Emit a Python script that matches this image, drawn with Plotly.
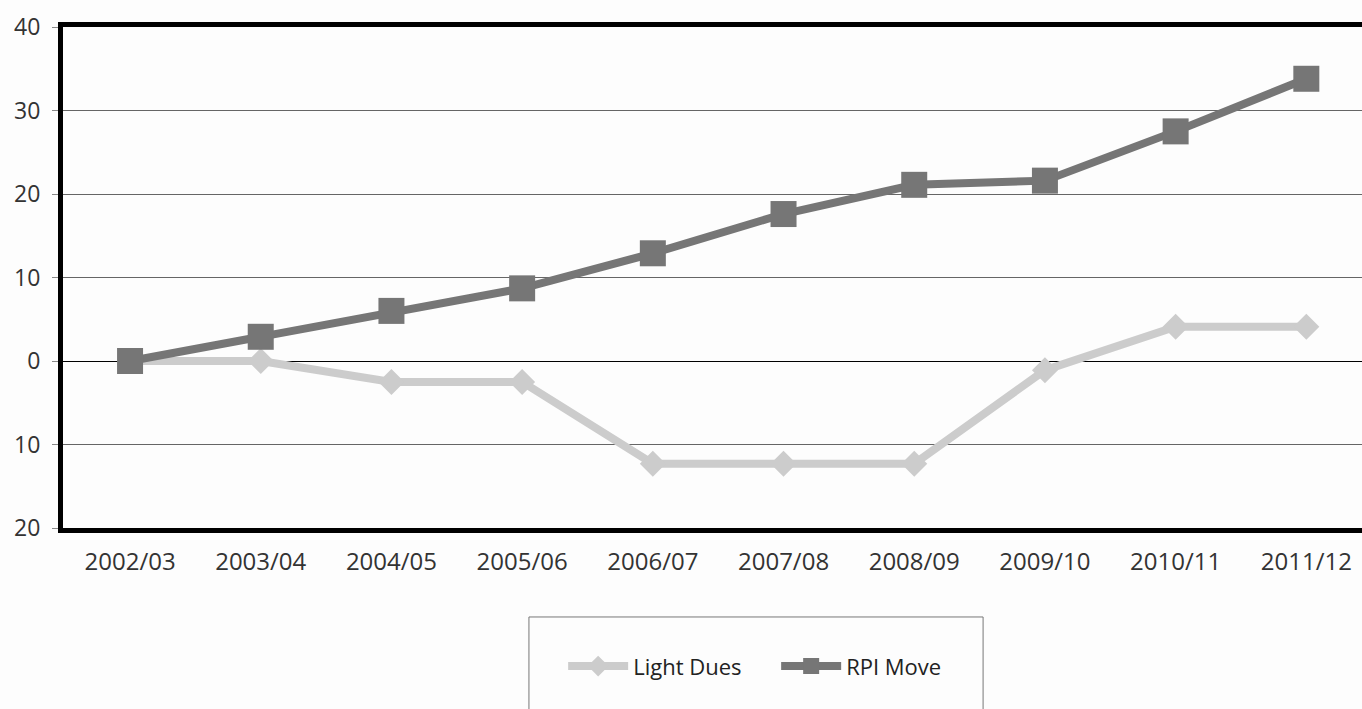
import plotly.graph_objects as go

years = ["2002/03", "2003/04", "2004/05", "2005/06", "2006/07",
         "2007/08", "2008/09", "2009/10", "2010/11", "2011/12"]
light_dues = [0, 0, -2.5, -2.5, -12.3, -12.3, -12.3, -1.1, 4.1, 4.1]
rpi_move = [0, 2.9, 6.0, 8.7, 12.9, 17.6, 21.1, 21.6, 27.5, 33.8]
y_tick_vals = [40, 30, 20, 10, 0, -10, -20]
y_tick_text = ["40", "30", "20", "10", "0", "10", "20"]

FONT = "Open Sans, Liberation Sans, sans-serif"

fig = go.Figure()
fig.add_trace(go.Scatter(
    x=years, y=light_dues, name="Light Dues", mode="lines+markers",
    line=dict(color="#cccccc", width=8),
    marker=dict(symbol="diamond", size=20, color="#cccccc"),
))
fig.add_trace(go.Scatter(
    x=years, y=rpi_move, name="RPI Move", mode="lines+markers",
    line=dict(color="#767676", width=8),
    marker=dict(symbol="square", size=26, color="#767676"),
))

# legend box (extends past bottom edge like the reference)
fig.add_shape(type="rect", xref="paper", yref="paper",
              x0=0.3587, x1=0.7083, y0=-0.40, y1=-0.1776,
              line=dict(color="#777777", width=1), fillcolor="rgba(0,0,0,0)")

fig.update_layout(
    width=1362, height=709,
    margin=dict(l=63, r=0, t=27, b=181),
    paper_bgcolor="#fdfdfd", plot_bgcolor="#fdfdfd",
    font=dict(family=FONT, size=20, color="#333333"),
    showlegend=True,
    legend=dict(orientation="h", x=0.549, xanchor="center", y=-0.276, yanchor="middle",
                bgcolor="rgba(0,0,0,0)", font=dict(size=22, color="#222222"),
                itemwidth=60, entrywidthmode="pixels", entrywidth=138),
    xaxis=dict(
        type="category", range=[-0.513, 9.426],
        showgrid=False, zeroline=False,
        showline=True, linecolor="black", linewidth=5, mirror=True,
        ticks="", tickfont=dict(size=24, color="#333333"),
        ticklabelstandoff=8,
    ),
    yaxis=dict(
        range=[-20, 40], tickvals=y_tick_vals, ticktext=y_tick_text,
        showgrid=True, gridcolor="#666666", gridwidth=1,
        zeroline=True, zerolinecolor="black", zerolinewidth=1,
        showline=True, linecolor="black", linewidth=5,
        ticks="outside", ticklen=6, tickcolor="#888888",
        tickfont=dict(size=23, color="#333333"),
        ticklabelstandoff=7,
    ),
)

fig.write_html("out.html",
               config={"displayModeBar": False},
               post_script="document.body.style.margin='0';document.body.style.overflow='hidden';")
